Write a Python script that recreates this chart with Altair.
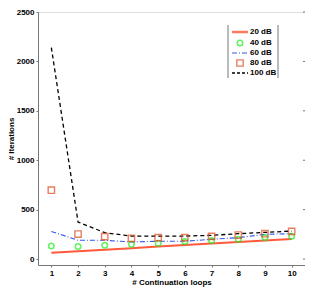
import altair as alt
import pandas as pd

loops = [1, 2, 3, 4, 5, 6, 7, 8, 9, 10]
db20 = [63, 80, 95, 110, 127, 143, 157, 172, 188, 203]
db40 = [133, 127, 140, 150, 160, 177, 187, 200, 217, 230]
db60 = [280, 190, 190, 173, 180, 180, 200, 217, 250, 257]
db80 = [697, 253, 227, 210, 217, 217, 230, 243, 257, 280]
db100 = [2140, 375, 267, 233, 233, 233, 240, 257, 270, 283]
series_names = ["20 dB", "40 dB", "60 dB", "80 dB", "100 dB"]
y_ticks = [0, 500, 1000, 1500, 2000, 2500]

W, H = 267, 253
FONT = "Liberation Sans"

df = pd.DataFrame({"x": loops, "s20": db20, "s40": db40, "s60": db60,
                   "s80": db80, "s100": db100})

xs = alt.Scale(domain=[0.5, 10.5], nice=False, zero=False)
ys = alt.Scale(domain=[-60, 2500], nice=False, zero=False)

common = dict(grid=False, domainColor="#777", tickColor="#777", tickSize=2,
              labelFont=FONT, labelFontSize=8, labelColor="#000",
              labelFontWeight="bold", labelOverlap=False, labelFlush=False,
              titleFont=FONT, titleFontSize=8, titleFontWeight="bold",
              titleColor="#000", labelPadding=2, format="d")
xax = alt.Axis(values=loops, title="# Continuation loops", titlePadding=1,
               **common)
yax = alt.Axis(values=y_ticks, title="# Iterations", titlePadding=1,
               **common)

base = alt.Chart(df)
X0 = alt.X("x:Q", scale=xs, axis=xax)


def Y0(f):
    return alt.Y(f, scale=ys, axis=yax)


l20 = base.mark_line(color="#ff5a3c", strokeWidth=2).encode(
    x=X0, y=Y0("s20:Q"))
p40 = base.mark_point(shape="circle", filled=False, color="#22ee22",
                      strokeWidth=1.6, size=30).encode(x=X0, y=Y0("s40:Q"))
l60 = base.mark_line(color="#3355ee", strokeWidth=1.1,
                     strokeDash=[5, 2, 1, 2]).encode(x=X0, y=Y0("s60:Q"))
p80 = base.mark_point(shape="square", filled=False, color="#dd4a1a",
                      strokeWidth=1.4, size=40).encode(x=X0, y=Y0("s80:Q"))
l100 = base.mark_line(color="#000", strokeWidth=1.3,
                      strokeDash=[4, 3]).encode(x=X0, y=Y0("s100:Q"))

# mirrored right-side ticks
rticks = alt.Chart(pd.DataFrame({"v": y_ticks})).mark_rule(
    color="#777").encode(
    y=Y0("v:Q"), x=alt.value(W - 2), x2=alt.value(W))

# manual legend
leg = pd.DataFrame({
    "name": series_names,
    "row": [20, 31, 41, 51, 61],
})
lx0, lx1, lmx, ltx = 194, 210, 202, 212
legend_text = alt.Chart(leg).mark_text(
    align="left", baseline="middle", font=FONT, fontSize=8,
    fontWeight="bold", color="#000").encode(
    x=alt.value(ltx), y=alt.Y("row:Q", scale=None), text="name:N")


def leg_line(i, **kw):
    return alt.Chart(leg.iloc[[i]]).mark_rule(**kw).encode(
        x=alt.value(lx0), x2=alt.value(lx1), y=alt.Y("row:Q", scale=None))


def leg_pt(i, **kw):
    return alt.Chart(leg.iloc[[i]]).mark_point(**kw).encode(
        x=alt.value(lmx), y=alt.Y("row:Q", scale=None))


leg_items = [
    leg_line(0, color="#ff7a60", strokeWidth=2.5),
    leg_pt(1, shape="circle", filled=False, color="#22ee22",
           strokeWidth=1.6, size=30),
    leg_line(2, color="#3355ee", strokeWidth=1.1, strokeDash=[5, 2, 1, 2]),
    leg_pt(3, shape="square", filled=False, color="#dd4a1a",
           strokeWidth=1.4, size=40),
    leg_line(4, color="#000", strokeWidth=1.5, strokeDash=[3, 2]),
]
box = alt.Chart(pd.DataFrame({"a": [190, 240]})).mark_rule(
    color="#777").encode(
    x=alt.X("a:Q", scale=None), y=alt.value(13), y2=alt.value(66))

chart = alt.layer(l20, l60, l100, p40, p80, rticks, box, legend_text,
                  *leg_items).properties(
    width=W, height=H,
    autosize="none",
    padding={"left": 30, "top": 4, "right": 0, "bottom": 24},
).configure_view(stroke=None).configure(background="white")

chart.save("out.html", embed_options={"renderer": "svg", "actions": False})
